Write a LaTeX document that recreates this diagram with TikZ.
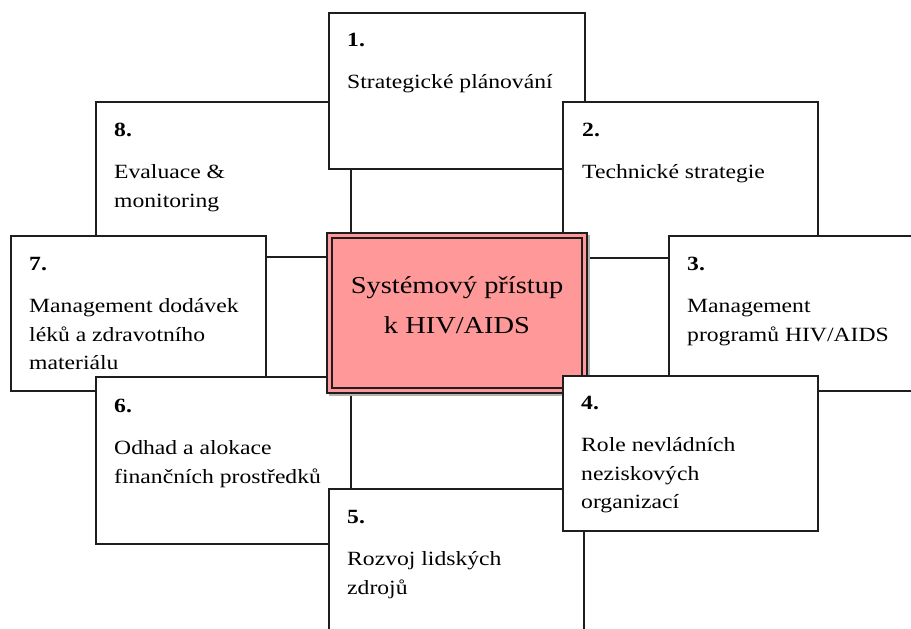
\documentclass[tikz,border=0pt]{standalone}
\usepackage{fontspec}
\setmainfont[FakeStretch=1.17]{Liberation Serif}
\definecolor{pinkfill}{RGB}{255,153,153}
\definecolor{edge}{RGB}{30,30,30}
\newcommand\bxtext[2]{\parbox[t]{235pt}{\raggedright\textbf{#1}\par\vspace{14pt}#2}}
\begin{document}
\begin{tikzpicture}[x=1pt,y=-1pt,
  boxst/.style={draw=edge, line width=1.5pt, fill=white, minimum width=255pt,
    minimum height=155pt, anchor=north west, inner sep=0pt, outer sep=0pt},
  txt/.style={anchor=base west, inner sep=0pt, font=\fontsize{20.2}{28.5}\selectfont},
  centerbox/.style={draw=edge, line width=2pt, fill=pinkfill, minimum width=260pt,
    minimum height=160pt, anchor=north west, inner sep=0pt, outer sep=0pt},
  ctxt/.style={anchor=base, inner sep=0pt, font=\fontsize{24.3}{40}\selectfont}]
\useasboundingbox (0,0) rectangle (911,629);
\clip (0,0) rectangle (911,629);
% box 8
\node[boxst] (b8) at (96,102) {};
\node[txt] (t8) at (114,136) {\bxtext{8.}{Evaluace \&\\monitoring}};
% box 7
\node[boxst] (b7) at (11,236) {};
\node[txt] (t7) at (29,270) {\bxtext{7.}{Management dodávek\\léků a zdravotního\\materiálu}};
% box 6
\node[boxst, minimum height=167pt] (b6) at (96,377) {};
\node[txt] (t6) at (114,412) {\bxtext{6.}{Odhad a alokace\\finančních prostředků}};
% box 5
\node[boxst] (b5) at (329,489) {};
\node[txt] (t5) at (347,523) {\bxtext{5.}{Rozvoj lidských\\zdrojů}};
% box 1
\node[boxst, minimum width=256pt, minimum height=156pt] (b1) at (329,13) {};
\node[txt] (t1) at (347,46) {\bxtext{1.}{Strategické plánování}};
% box 2
\node[boxst, minimum height=156pt] (b2) at (563,102) {};
\node[txt] (t2) at (582,136) {\bxtext{2.}{Technické strategie}};
% box 3
\node[boxst] (b3) at (669,236) {};
\node[txt] (t3) at (687,270) {\bxtext{3.}{Management\\programů HIV/AIDS}};
% center
\fill[black!30] (329,235) rectangle (590,396);
\node[centerbox] (c) at (327,233) {};
\draw[edge, line width=1.2pt] ([shift={(5,5)}]c.north west) rectangle ([shift={(-5,-5)}]c.south east);
\node[ctxt] (ct) at (457,293) {\parbox[t]{240pt}{\centering Systémový přístup\\k HIV/AIDS}};
% box 4
\node[boxst] (b4) at (563,376) {};
\node[txt] (t4) at (581,409) {\bxtext{4.}{Role nevládních\\neziskových\\organizací}};
\end{tikzpicture}
\end{document}
